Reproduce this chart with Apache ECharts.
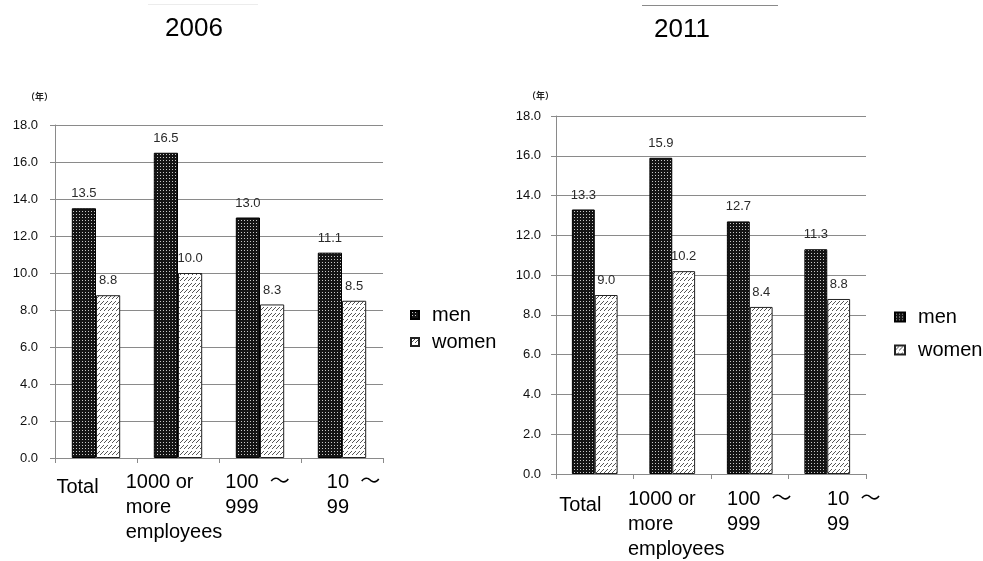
<!DOCTYPE html>
<html>
<head>
<meta charset="utf-8">
<script src="https://cdn.jsdelivr.net/npm/echarts@6/dist/echarts.min.js"></script>
<style>html,body{margin:0;padding:0;background:#fff}#c{width:983px;height:561px}</style>
</head>
<body>
<div id="c"></div>
<script>
const categories = ['Total', '1000 or\nmore\nemployees', '100  ～\n999', '10  ～\n99'];
const men2006 = [13.5, 16.5, 13.0, 11.1];
const women2006 = [8.8, 10.0, 8.3, 8.5];
const men2011 = [13.3, 15.9, 12.7, 11.3];
const women2011 = [9.0, 10.2, 8.4, 8.8];
const yMin = 0, yMax = 18, yStep = 2;
const titles = ['2006', '2011'];
const unitName = '（年）';

function menPattern() {
  const c = document.createElement('canvas');
  c.width = 3; c.height = 3;
  const g = c.getContext('2d');
  g.fillStyle = '#141414'; g.fillRect(0, 0, 3, 3);
  g.fillStyle = '#c8c8c8'; g.fillRect(1, 1, 1, 1);
  return { image: c, repeat: 'repeat' };
}
function womenPattern() {
  const c = document.createElement('canvas');
  c.width = 4; c.height = 6;
  const g = c.getContext('2d');
  g.fillStyle = '#ffffff'; g.fillRect(0, 0, 4, 6);
  g.fillStyle = '#555555';
  g.fillRect(0, 4, 1, 1); g.fillRect(1, 3, 1, 1); g.fillRect(2, 2, 1, 1); g.fillRect(3, 1, 1, 1);
  return { image: c, repeat: 'repeat' };
}
const mp = menPattern(), wp = womenPattern();
const FONT = '"Liberation Sans", Arial, "Noto Sans CJK JP", sans-serif';

function richFor(pads) {
  const r = {};
  pads.forEach((p, i) => {
    r['k' + i] = { fontSize: 20, lineHeight: 25, align: 'left', color: '#000', fontFamily: FONT, padding: p };
  });
  return r;
}
function xAxis(gi, margin, pads) {
  return {
    type: 'category', gridIndex: gi, data: categories,
    axisLine: { show: true, lineStyle: { color: '#8a8a8a', width: 1 } },
    axisTick: { show: true, length: 5, lineStyle: { color: '#8a8a8a' } },
    axisLabel: {
      interval: 0, margin: margin, align: 'center',
      formatter: (v, i) => '{k' + i + '|' + v + '}',
      rich: richFor(pads)
    }
  };
}
function yAxis(gi, labelMargin, nameGap) {
  return {
    type: 'value', gridIndex: gi, min: yMin, max: yMax, interval: yStep,
    name: unitName, nameLocation: 'end', nameGap: nameGap,
    nameTextStyle: { fontSize: 9, fontWeight: 'bold', color: '#222', align: 'right', verticalAlign: 'middle', padding: [0, 2, 0, 0], fontFamily: '"Noto Sans CJK JP", sans-serif' },
    axisLine: { show: true, lineStyle: { color: '#8a8a8a', width: 1 } },
    axisTick: { show: true, length: 5, lineStyle: { color: '#8a8a8a' } },
    splitLine: { show: true, lineStyle: { color: '#8a8a8a', width: 1 } },
    axisLabel: { margin: labelMargin, fontSize: 13, color: '#111', fontFamily: FONT, formatter: v => v.toFixed(1) }
  };
}
function barSeries(name, data, gi, pattern, border) {
  return {
    type: 'bar', name: name, data: data, xAxisIndex: gi, yAxisIndex: gi,
    barGap: '0%', barCategoryGap: '41%',
    itemStyle: { color: pattern, borderColor: border, borderWidth: 1 },
    label: { show: true, position: 'top', distance: 8, fontSize: 13, color: '#2a2a2a', fontFamily: FONT, formatter: p => p.value.toFixed(1) },
    emphasis: { disabled: true }
  };
}

const chart = echarts.init(document.getElementById('c'), null, { renderer: 'canvas' });
chart.setOption({
  animation: false,
  backgroundColor: '#fff',
  title: [
    { text: titles[0], left: 189, top: 11, textAlign: 'center', textStyle: { fontSize: 26, fontWeight: 'normal', color: '#000', fontFamily: FONT } },
    { text: titles[1], left: 677, top: 12, textAlign: 'center', textStyle: { fontSize: 26, fontWeight: 'normal', color: '#000', fontFamily: FONT } }
  ],
  graphic: [
    { type: 'line', shape: { x1: 148, y1: 4.5, x2: 258, y2: 4.5 }, style: { stroke: '#ececec', lineWidth: 1 } },
    { type: 'line', shape: { x1: 642, y1: 5.5, x2: 778, y2: 5.5 }, style: { stroke: '#8a8a8a', lineWidth: 1 } }
  ],
  legend: [
    { orient: 'vertical', left: 405, top: 300, itemWidth: 8, itemHeight: 8, itemGap: 7, icon: 'rect',
      data: ['men', 'women'], selectedMode: false,
      textStyle: { fontSize: 20, lineHeight: 20, color: '#000', fontFamily: FONT, padding: [0, 0, 0, 8] } },
    { orient: 'vertical', left: 889, top: 302, itemWidth: 10, itemHeight: 9, itemGap: 13, icon: 'rect',
      data: ['men', 'women'], selectedMode: false,
      textStyle: { fontSize: 20, lineHeight: 20, color: '#000', fontFamily: FONT, padding: [0, 0, 0, 8] } }
  ],
  grid: [
    { left: 55, top: 125, width: 328, height: 333, containLabel: false },
    { left: 556, top: 116, width: 310, height: 358, containLabel: false }
  ],
  xAxis: [
    xAxis(0, 12, [[9, 37, 0, 0], [0, 8, 0, 0], [0, 5, 0, 0], [0, 0, 0, 23]]),
    xAxis(1, 13, [[11, 29, 0, 0], [0, 0, 0, 8], [0, 0, 0, 19], [0, 0, 0, 53]])
  ],
  yAxis: [
    yAxis(0, 17, 28),
    yAxis(1, 15, 20)
  ],
  series: [
    barSeries('men', men2006, 0, mp, '#000'),
    barSeries('women', women2006, 0, wp, '#222'),
    barSeries('men', men2011, 1, mp, '#000'),
    barSeries('women', women2011, 1, wp, '#222')
  ]
});
</script>
</body>
</html>
